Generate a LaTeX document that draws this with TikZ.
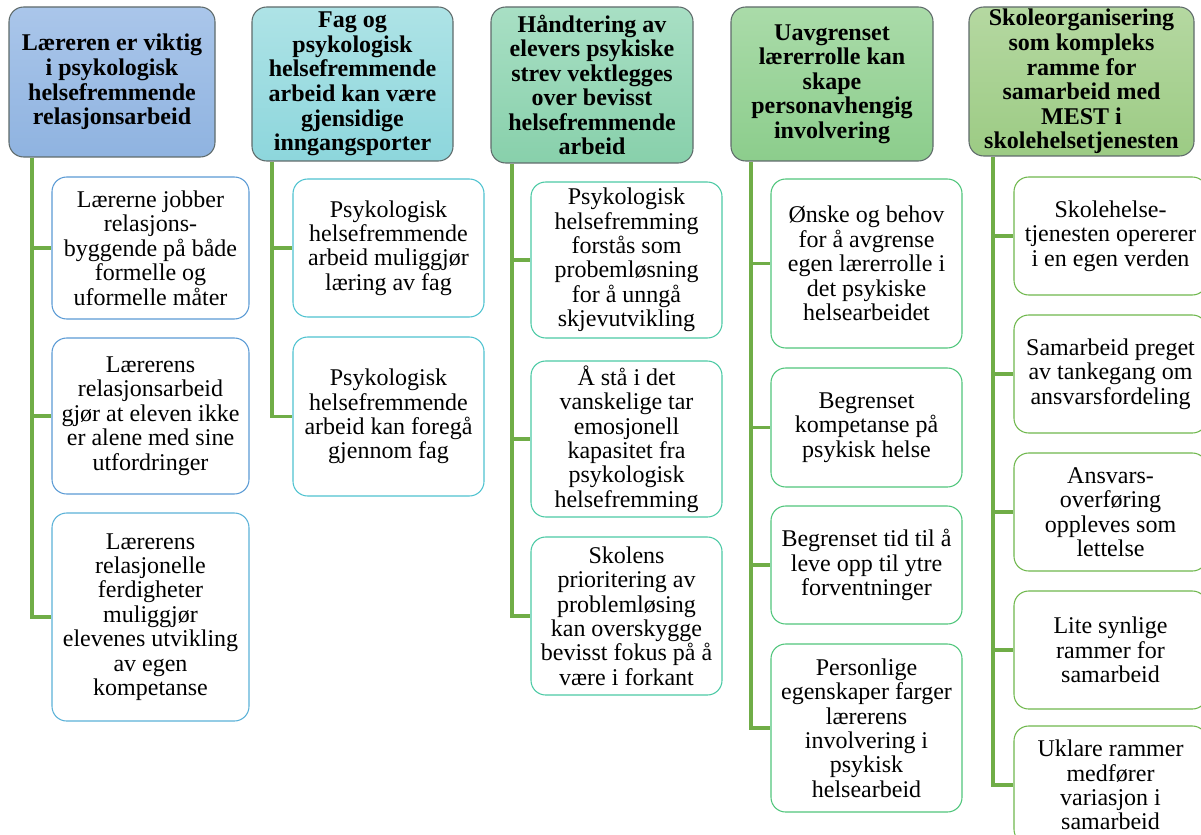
\documentclass[tikz,border=0pt]{standalone}
\usepackage{fontspec}
\setmainfont{Liberation Serif}
\usetikzlibrary{calc}
\definecolor{conn}{HTML}{70AD47}
\definecolor{hdraw}{HTML}{5F6B6B}
\definecolor{hAt}{HTML}{AAC6EA}\definecolor{hAb}{HTML}{8FB3E0}
\definecolor{hBt}{HTML}{AEE3E6}\definecolor{hBb}{HTML}{8DD6DC}
\definecolor{hCt}{HTML}{A8DFC4}\definecolor{hCb}{HTML}{88D0AB}
\definecolor{hDt}{HTML}{AADBA9}\definecolor{hDb}{HTML}{8CCD8C}
\definecolor{hEt}{HTML}{B5D8A1}\definecolor{hEb}{HTML}{9CCB84}
\definecolor{kA}{HTML}{5B9BD5}
\definecolor{kAb}{HTML}{5BB2D8}
\definecolor{kB}{HTML}{4FC3D0}
\definecolor{kC}{HTML}{4CCAA5}
\definecolor{kD}{HTML}{50C67C}
\definecolor{kE}{HTML}{70B84E}
\tikzset{
  sz/.style n args={2}{minimum width=#1*0.75pt, minimum height=#2*0.75pt},
  head/.style n args={2}{draw=hdraw, line width=0.8pt, rounded corners=11pt,
    top color=#1, bottom color=#2, align=center, inner sep=1pt,
    font={\bfseries\fontsize{18}{18.4}\selectfont}},
  kid/.style={draw=#1, line width=0.8pt, rounded corners=11pt, fill=white,
    align=center, inner sep=1pt, font={\fontsize{18}{18.3}\selectfont}},
  link/.style={draw=conn, line width=2.4pt},
}
\begin{document}
\begin{tikzpicture}[x=0.75pt,y=-0.75pt]
\useasboundingbox (0,0) rectangle (1201,834);
\clip (0,0) rectangle (1201,834);
\fill[white] (0,0) rectangle (1201,834);
% headers
\node[head={hAt}{hAb}, sz={206}{150}] (h1) at (112,82) {Læreren er viktig\\i psykologisk\\helsefremmende\\relasjonsarbeid};
\node[head={hBt}{hBb}, sz={201}{154}] (h2) at (352.5,84) {Fag og\\psykologisk\\helsefremmende\\arbeid kan være\\gjensidige\\inngangsporter};
\node[head={hCt}{hCb}, sz={202}{156}] (h3) at (592,85) {Håndtering av\\elevers psykiske\\strev vektlegges\\over bevisst\\helsefremmende\\arbeid};
\node[head={hDt}{hDb}, sz={202}{154}] (h4) at (832,84) {Uavgrenset\\lærerrolle kan\\skape\\personavhengig\\involvering};
\node[head={hEt}{hEb}, sz={225}{149}] (h5) at (1081.5,81.5) {Skoleorganisering\\som kompleks\\ramme for\\samarbeid med\\MEST i\\skolehelsetjenesten};
% column 1
\node[kid=kA, sz={197}{142}] (k11) at (150.5,248) {Lærerne jobber\\relasjons-\\byggende på både\\formelle og\\uformelle måter};
\node[kid=kA, sz={197}{156}] (k12) at (150.5,416) {Lærerens\\relasjonsarbeid\\gjør at eleven ikke\\er alene med sine\\utfordringer};
\node[kid=kAb, sz={197}{208}] (k13) at (150.5,617) {Lærerens\\relasjonelle\\ferdigheter\\muliggjør\\elevenes utvikling\\av egen\\kompetanse};
% column 2
\node[kid=kB, sz={191}{138}] (k21) at (388.5,248) {Psykologisk\\helsefremmende\\arbeid muliggjør\\læring av fag};
\node[kid=kB, sz={191}{159}] (k22) at (388.5,416.5) {Psykologisk\\helsefremmende\\arbeid kan foregå\\gjennom fag};
% column 3
\node[kid=kC, sz={191}{156}] (k31) at (626.5,260) {Psykologisk\\helsefremming\\forstås som\\probemløsning\\for å unngå\\skjevutvikling};
\node[kid=kC, sz={191}{156}] (k32) at (626.5,439) {Å stå i det\\vanskelige tar\\emosjonell\\kapasitet fra\\psykologisk\\helsefremming};
\node[kid=kC, sz={191}{158}] (k33) at (626.5,616) {Skolens\\prioritering av\\problemløsing\\kan overskygge\\bevisst fokus på å\\være i forkant};
% column 4
\node[kid=kD, sz={191}{169}] (k41) at (866.5,263.5) {Ønske og behov\\for å avgrense\\egen lærerrolle i\\det psykiske\\helsearbeidet};
\node[kid=kD, sz={191}{119}] (k42) at (866.5,427.5) {Begrenset\\kompetanse på\\psykisk helse};
\node[kid=kD, sz={191}{118}] (k43) at (866.5,565) {Begrenset tid til å\\leve opp til ytre\\forventninger};
\node[kid=kD, sz={191}{168}] (k44) at (866.5,728) {Personlige\\egenskaper farger\\lærerens\\involvering i\\psykisk\\helsearbeid};
% column 5
\node[kid=kE, sz={193}{118}] (k51) at (1110.5,236) {Skolehelse-\\tjenesten opererer\\i en egen verden};
\node[kid=kE, sz={193}{118}] (k52) at (1110.5,374) {Samarbeid preget\\av tankegang om\\ansvarsfordeling};
\node[kid=kE, sz={193}{118}] (k53) at (1110.5,512) {Ansvars-\\overføring\\oppleves som\\lettelse};
\node[kid=kE, sz={193}{118}] (k54) at (1110.5,650) {Lite synlige\\rammer for\\samarbeid};
\node[kid=kE, sz={193}{118}] (k55) at (1110.5,785) {Uklare rammer\\medfører\\variasjon i\\samarbeid};
% connector spines
\coordinate (c1) at (32,0);
\coordinate (c2) at (272,0);
\coordinate (c3) at (512,0);
\coordinate (c4) at (751,0);
\coordinate (c5) at (993,0);
\draw[link] (c1 |- h1.south) |- (k13.west);
\draw[link] (c1 |- k11.west) -- (k11.west);
\draw[link] (c1 |- k12.west) -- (k12.west);
\draw[link] (c2 |- h2.south) |- (k22.west);
\draw[link] (c2 |- k21.west) -- (k21.west);
\draw[link] (c3 |- h3.south) |- (k33.west);
\draw[link] (c3 |- k31.west) -- (k31.west);
\draw[link] (c3 |- k32.west) -- (k32.west);
\draw[link] (c4 |- h4.south) |- (k44.west);
\draw[link] (c4 |- k41.west) -- (k41.west);
\draw[link] (c4 |- k42.west) -- (k42.west);
\draw[link] (c4 |- k43.west) -- (k43.west);
\draw[link] (c5 |- h5.south) |- (k55.west);
\draw[link] (c5 |- k51.west) -- (k51.west);
\draw[link] (c5 |- k52.west) -- (k52.west);
\draw[link] (c5 |- k53.west) -- (k53.west);
\draw[link] (c5 |- k54.west) -- (k54.west);
\end{tikzpicture}
\end{document}
